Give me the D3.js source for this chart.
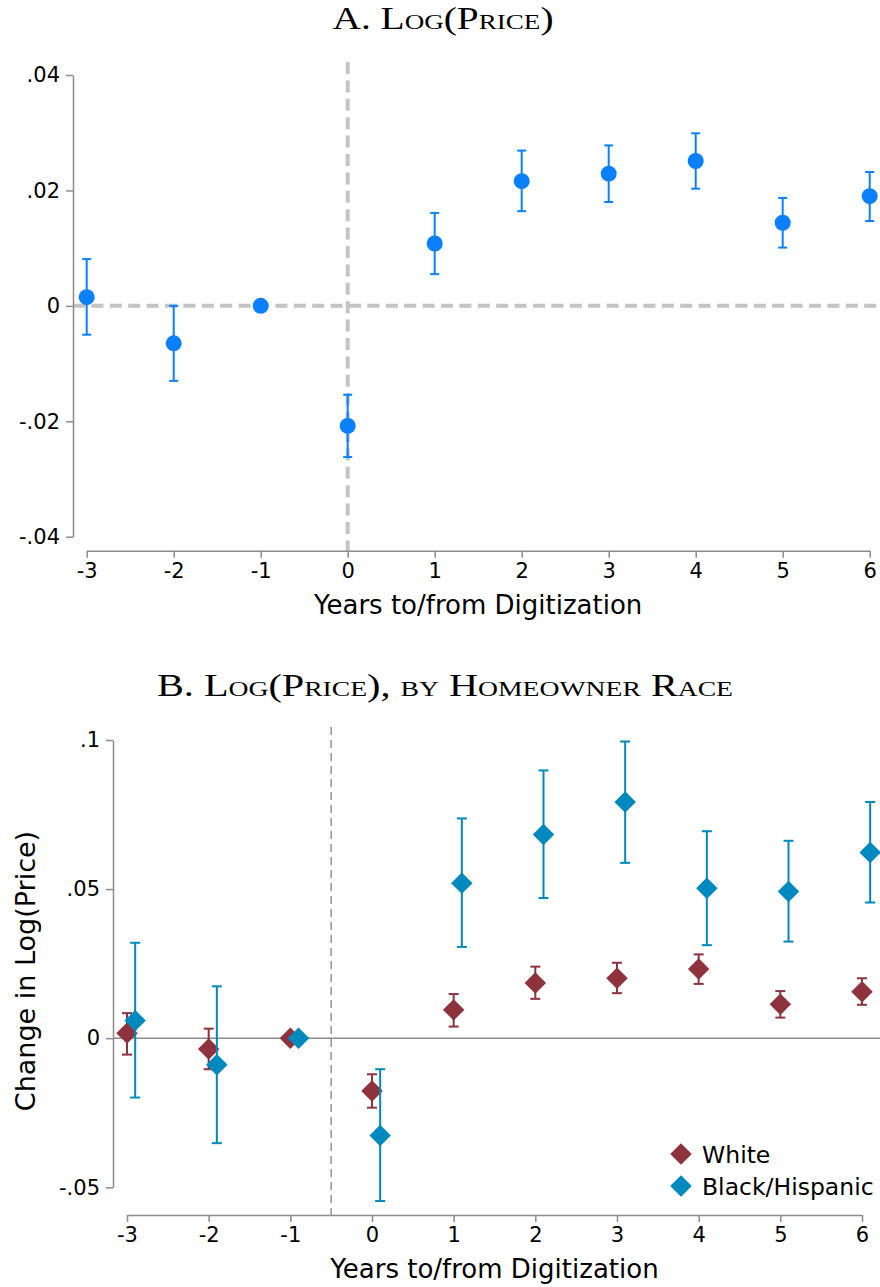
<!DOCTYPE html>
<html>
<head>
<meta charset="utf-8">
<script src="https://cdn.jsdelivr.net/npm/d3@7"></script>
<style>
  html, body { margin: 0; padding: 0; background: #fff; }
  svg { display: block; }
  .tick text, .lab { font-family: "DejaVu Sans", sans-serif; fill: #000; }
  .ttl { font-family: "Liberation Serif", "DejaVu Serif", serif; font-variant: small-caps; fill: #000; }
</style>
</head>
<body>
<svg id="chart" width="880" height="1287"></svg>
<script>
// Event-study years
const years = [-3, -2, -1, 0, 1, 2, 3, 4, 5, 6];

// Panel A: pooled coefficients and 95% CIs (null = omitted base year)
const pooledCoef = [0.0015, -0.0065, 0, -0.0208, 0.0108, 0.0216, 0.0229, 0.0251, 0.0144, 0.0190];
const pooledLo   = [-0.0050, -0.0130, null, -0.0262, 0.0055, 0.0164, 0.0180, 0.0203, 0.0101, 0.0147];
const pooledHi   = [0.0081, 0.0000, null, -0.0154, 0.0161, 0.0269, 0.0278, 0.0299, 0.0187, 0.0232];
const panelATicks = [-0.04, -0.02, 0, 0.02, 0.04];

// Panel B: by homeowner race
const whiteCoef = [0.0017, -0.0036, 0, -0.0177, 0.0095, 0.0185, 0.0201, 0.0232, 0.0114, 0.0156];
const whiteLo   = [-0.0055, -0.0104, null, -0.0233, 0.0039, 0.0132, 0.0151, 0.0182, 0.0069, 0.0112];
const whiteHi   = [0.0084, 0.0032, null, -0.0121, 0.0148, 0.0240, 0.0253, 0.0281, 0.0158, 0.0201];
const minorCoef = [0.0059, -0.0089, 0, -0.0326, 0.0520, 0.0683, 0.0792, 0.0503, 0.0492, 0.0623];
const minorLo   = [-0.0199, -0.0352, null, -0.0546, 0.0306, 0.0470, 0.0588, 0.0312, 0.0324, 0.0455];
const minorHi   = [0.0320, 0.0174, null, -0.0104, 0.0737, 0.0898, 0.0995, 0.0694, 0.0662, 0.0792];
const panelBTicks = [-0.05, 0, 0.05, 0.1];
const seriesNames = ["White", "Black/Hispanic"];

// Stata-style labels: plain hyphen, no leading zero
const fmt = v => v === 0 ? "0" : (v < 0 ? "-" : "") + String(Math.abs(v)).replace(/^0/, "");
const fmtYear = v => String(v);

const svg = d3.select("#chart");
const axisGray = "#8c8c8c";

function styleAxis(g) {
  g.selectAll(".domain").attr("stroke", axisGray).attr("stroke-width", 1.5);
  g.selectAll(".tick line").attr("stroke", axisGray).attr("stroke-width", 1.5);
  g.selectAll(".tick text").attr("font-size", 21);
}

function title(g, txt, x, y, width) {
  g.append("text").attr("class", "ttl").attr("x", x).attr("y", y)
    .attr("text-anchor", "middle").attr("font-size", 32)
    .attr("textLength", width).attr("lengthAdjust", "spacingAndGlyphs")
    .text(txt);
}

function errorBars(g, xs, y, lo, hi, color, cap) {
  const rows = years.map((yr, i) => ({ x: xs(yr), lo: lo[i], hi: hi[i] })).filter(d => d.lo !== null);
  const eb = g.append("g").attr("stroke", color).attr("stroke-width", 2).attr("fill", "none");
  eb.selectAll("line.v").data(rows).join("line")
    .attr("x1", d => d.x).attr("x2", d => d.x)
    .attr("y1", d => y(d.lo)).attr("y2", d => y(d.hi));
  eb.selectAll("line.t").data(rows).join("line")
    .attr("x1", d => d.x - cap).attr("x2", d => d.x + cap)
    .attr("y1", d => y(d.hi)).attr("y2", d => y(d.hi));
  eb.selectAll("line.b").data(rows).join("line")
    .attr("x1", d => d.x - cap).attr("x2", d => d.x + cap)
    .attr("y1", d => y(d.lo)).attr("y2", d => y(d.lo));
}

/* ---------- Panel A ---------- */
{
  const x = d3.scaleLinear().domain([-3, 6]).range([86.7, 869.7]);
  const y = d3.scaleLinear().domain([-0.04, 0.04]).range([536.7, 75]);
  const blue = "#0a80ff";
  const g = svg.append("g");

  title(g, "A. Log(Price)", 443, 28.5, 221);

  // reference lines at zero
  g.append("line").attr("x1", 73).attr("x2", 880).attr("y1", y(0)).attr("y2", y(0))
    .attr("stroke", "#c4c4c4").attr("stroke-width", 4).attr("stroke-dasharray", "12,6.4");
  g.append("line").attr("x1", x(0)).attr("x2", x(0)).attr("y1", 62).attr("y2", 551)
    .attr("stroke", "#c4c4c4").attr("stroke-width", 4).attr("stroke-dasharray", "12,6.4");

  const ya = g.append("g").attr("transform", "translate(73,0)")
    .call(d3.axisLeft(y).tickValues(panelATicks).tickFormat(fmt).tickSize(7).tickSizeOuter(0).tickPadding(6));
  styleAxis(ya);
  const xa = g.append("g").attr("transform", `translate(0,${550.7})`)
    .call(d3.axisBottom(x).tickValues(years).tickFormat(fmtYear).tickSize(7).tickSizeOuter(0).tickPadding(5));
  styleAxis(xa);

  g.append("text").attr("class", "lab").attr("x", (x(-3) + x(6)) / 2).attr("y", 613.5)
    .attr("text-anchor", "middle").attr("font-size", 26).text("Years to/from Digitization");

  errorBars(g, x, y, pooledLo, pooledHi, blue, 4.5);
  g.append("g").selectAll("circle").data(years).join("circle")
    .attr("cx", d => x(d)).attr("cy", (d, i) => y(pooledCoef[i])).attr("r", 8).attr("fill", blue);
}

/* ---------- Panel B ---------- */
{
  const x = d3.scaleLinear().domain([-3, 6]).range([127, 862]);
  const y = d3.scaleLinear().domain([-0.05, 0.1]).range([1187.3, 740]);
  const maroon = "#8e323d";
  const teal = "#0089bf";
  const g = svg.append("g");

  title(g, "B. Log(Price), by Homeowner Race", 445, 696, 576);

  g.append("line").attr("x1", 113).attr("x2", 880).attr("y1", y(0)).attr("y2", y(0))
    .attr("stroke", axisGray).attr("stroke-width", 1.5);
  g.append("line").attr("x1", x(-0.5)).attr("x2", x(-0.5)).attr("y1", 727).attr("y2", 1215)
    .attr("stroke", "#999").attr("stroke-width", 1.6).attr("stroke-dasharray", "8,5");

  const ya = g.append("g").attr("transform", "translate(113,0)")
    .call(d3.axisLeft(y).tickValues(panelBTicks).tickFormat(fmt).tickSize(7).tickSizeOuter(0).tickPadding(6));
  styleAxis(ya);
  const xa = g.append("g").attr("transform", "translate(0,1215)")
    .call(d3.axisBottom(x).tickValues(years).tickFormat(fmtYear).tickSize(7).tickSizeOuter(0).tickPadding(5));
  styleAxis(xa);

  g.append("text").attr("class", "lab").attr("transform", "translate(35,971) rotate(-90)")
    .attr("text-anchor", "middle").attr("font-size", 27).text("Change in Log(Price)");
  g.append("text").attr("class", "lab").attr("x", (x(-3) + x(6)) / 2).attr("y", 1278)
    .attr("text-anchor", "middle").attr("font-size", 26).text("Years to/from Digitization");

  const diamond = d3.symbol().type(d3.symbolSquare).size(230);

  // White at integer years, Black/Hispanic nudged right by 0.1
  const xw = d3.scaleLinear().domain([-3, 6]).range([x(-3), x(6)]);
  const xm = d3.scaleLinear().domain([-3, 6]).range([x(-2.9), x(6.1)]);

  errorBars(g, xw, y, whiteLo, whiteHi, maroon, 5);
  g.append("g").selectAll("path").data(years).join("path")
    .attr("d", diamond)
    .attr("transform", (d, i) => `translate(${xw(d)},${y(whiteCoef[i])}) rotate(45)`)
    .attr("fill", maroon);

  errorBars(g, xm, y, minorLo, minorHi, teal, 5);
  g.append("g").selectAll("path").data(years).join("path")
    .attr("d", diamond)
    .attr("transform", (d, i) => `translate(${xm(d)},${y(minorCoef[i])}) rotate(45)`)
    .attr("fill", teal);

  // legend
  const leg = g.append("g");
  const legColors = [maroon, teal];
  seriesNames.forEach((name, i) => {
    const cy = 1154 + i * 32;
    leg.append("path").attr("d", diamond).attr("transform", `translate(681,${cy}) rotate(45)`).attr("fill", legColors[i]);
    leg.append("text").attr("class", "lab").attr("x", 702).attr("y", cy + 8.5)
      .attr("font-size", 23.5).text(name);
  });
}
</script>
</body>
</html>
